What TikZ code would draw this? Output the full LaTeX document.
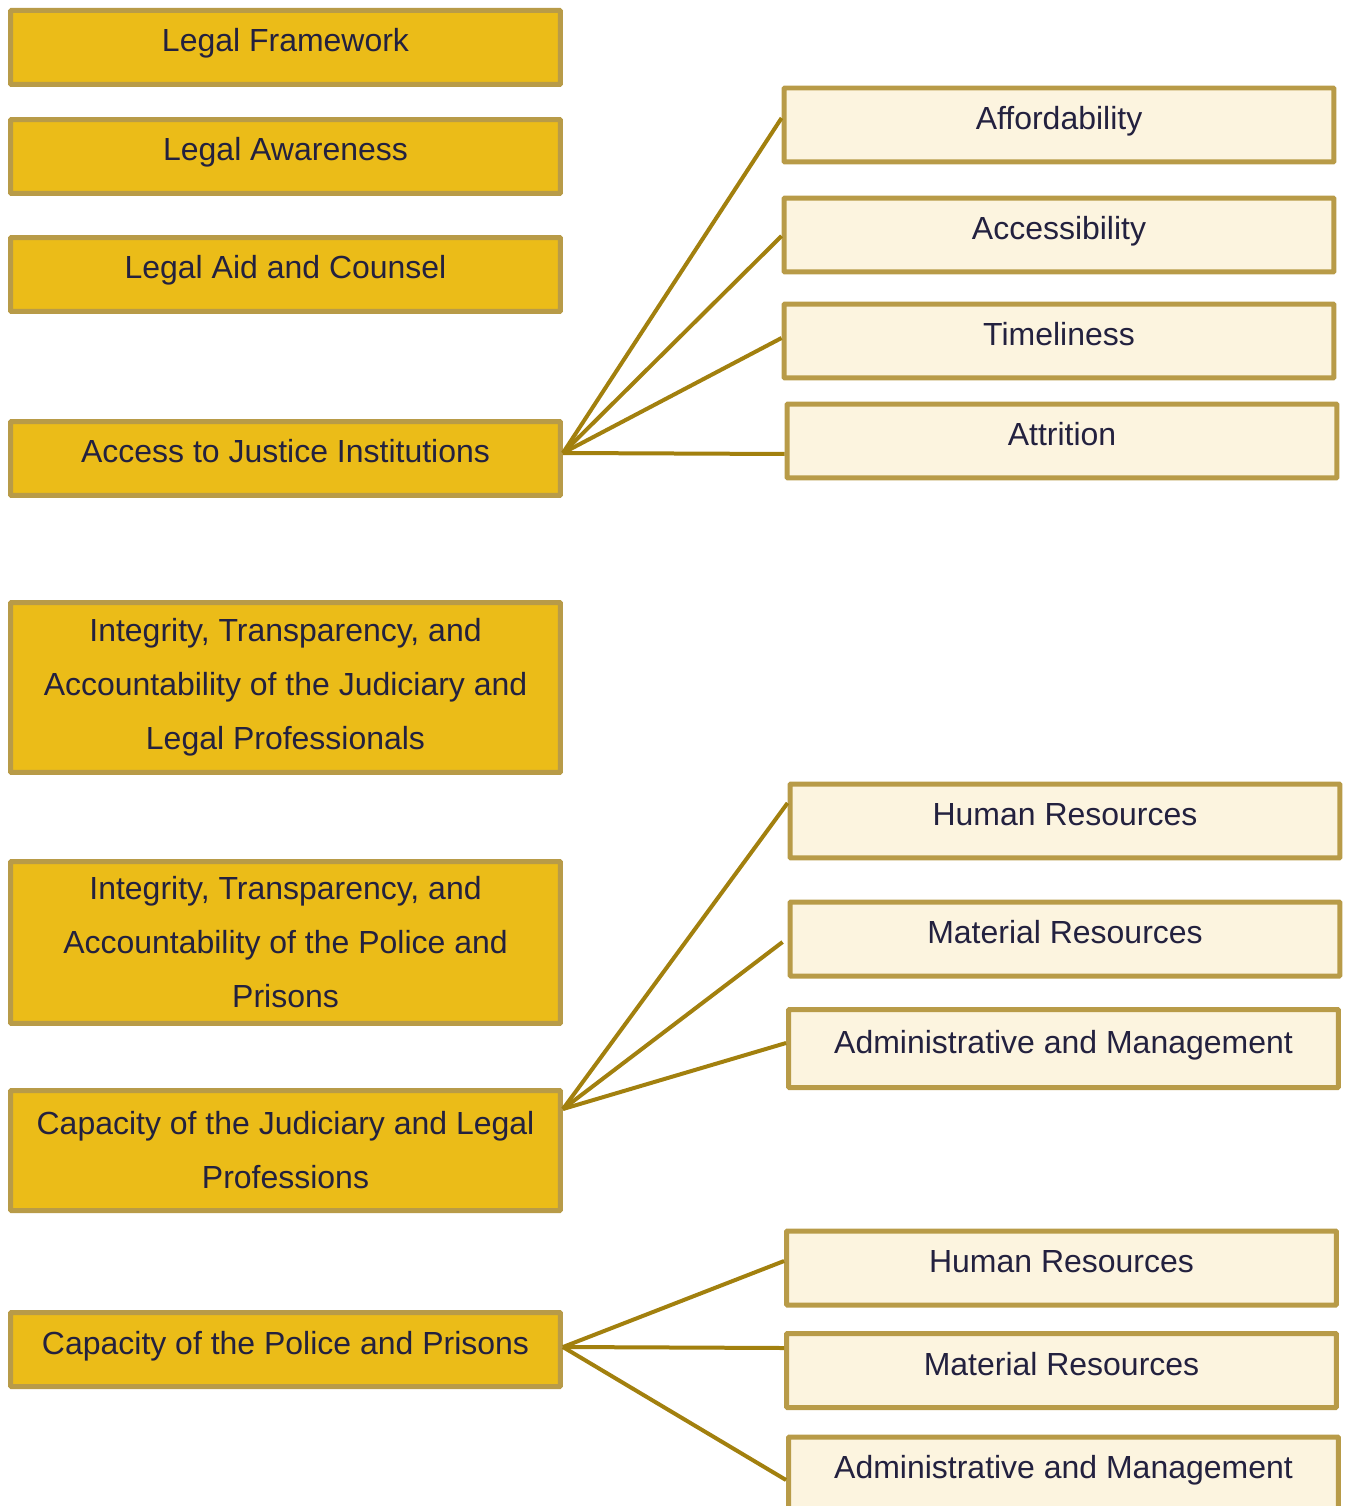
\documentclass[tikz,border=0pt]{standalone}
\usepackage{fontspec}
\setmainfont{Liberation Sans}
\usepackage{xcolor}
\usepackage{tikz}
\definecolor{pillargold}{RGB}{235,188,24}
\definecolor{pillarborder}{RGB}{184,155,72}
\definecolor{factorcream}{RGB}{252,244,223}
\definecolor{linkolive}{RGB}{162,128,14}
\definecolor{labelnavy}{RGB}{35,33,63}

\begin{document}
\begin{tikzpicture}[x=0.02cm, y=-0.02cm,
    box/.style={draw=pillarborder, line width=0.1cm, rounded corners=0.5pt, minimum width=11cm, minimum height=1.48cm, inner sep=0pt, align=center, text=labelnavy, font=\fontsize{18.2}{30.7}\selectfont},
    single/.style={text height=0.5cm, text depth=0.32cm},
    pillar/.style={box, fill=pillargold},
    factor/.style={box, fill=factorcream, single},
    link/.style={draw=linkolive, line width=0.08cm}
]
\useasboundingbox (0,0) rectangle (1347,1506);

\node[pillar, single] (L1) at (285.5,47.5) {Legal Framework};
\node[pillar, single] (L2) at (285.5,156.5) {Legal Awareness};
\node[pillar, single] (L3) at (285.5,274.5) {Legal Aid and Counsel};
\node[pillar, single] (L4) at (285.5,458.5) {Access to Justice Institutions};
\node[pillar, minimum height=3.4cm] (L5) at (285.5,687.5) {Integrity, Transparency, and\\Accountability of the Judiciary and\\Legal Professionals};
\node[pillar, minimum height=3.24cm] (L6) at (285.5,942.5) {Integrity, Transparency, and\\Accountability of the Police and\\Prisons};
\node[pillar, minimum height=2.4cm] (L7) at (285.5,1150.5) {Capacity of the Judiciary and Legal\\Professions};
\node[pillar, single] (L8) at (285.5,1349.5) {Capacity of the Police and Prisons};

\node[factor] (R1) at (1059,125) {Affordability};
\node[factor] (R2) at (1059,235) {Accessibility};
\node[factor] (R3) at (1059,341) {Timeliness};
\node[factor] (R4) at (1062,441) {Attrition};

\node[factor] (R5) at (1065,821) {Human Resources};
\node[factor] (R6) at (1065,939) {Material Resources};
\node[factor, minimum height=1.56cm] (R7) at (1063.5,1048.5) {Administrative and Management};

\node[factor] (R8) at (1061.5,1268) {Human Resources};
\node[factor] (R9) at (1061.5,1370.5) {Material Resources};
\node[factor] (R10) at (1063.5,1474) {Administrative and Management};

\draw[link] ([yshift=0.11cm]L4.east) -- ([yshift=0.14cm]R1.west);
\draw[link] ([yshift=0.11cm]L4.east) -- ([yshift=-0.02cm]R2.west);
\draw[link] ([yshift=0.11cm]L4.east) -- ([yshift=0.06cm]R3.west);
\draw[link] ([yshift=0.11cm]L4.east) -- ([yshift=-0.26cm]R4.west);

\draw[link] ([yshift=0.83cm]L7.east) -- ([yshift=0.36cm]R5.west);
\draw[link] ([yshift=0.83cm]L7.east) -- ([xshift=-0.1cm,yshift=-0.06cm]R6.west);
\draw[link] ([yshift=0.83cm]L7.east) -- ([yshift=0.11cm]R7.west);

\draw[link] ([yshift=0.05cm]L8.east) -- ([yshift=0.14cm]R8.west);
\draw[link] ([yshift=0.05cm]L8.east) -- ([yshift=0.45cm]R9.west);
\draw[link] ([yshift=0.05cm]L8.east) -- ([yshift=-0.12cm]R10.west);

\end{tikzpicture}
\end{document}
